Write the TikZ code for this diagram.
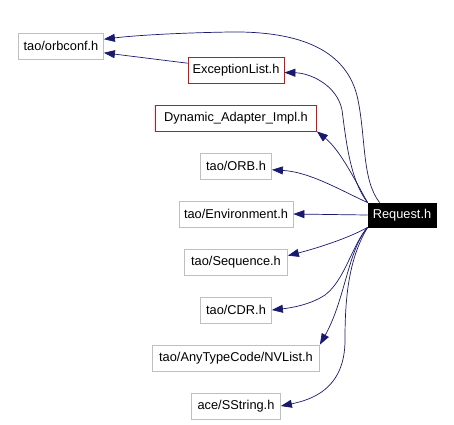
\documentclass[tikz,border=0pt]{standalone}
\usepackage{fontspec}
\setmainfont{Liberation Sans}
\usepackage{tikz}
\usetikzlibrary{arrows.meta}
\definecolor{edgeblue}{HTML}{191970}
\definecolor{boxgray}{HTML}{BFBFBF}

\begin{document}
\begin{tikzpicture}[x=1pt, y=-1pt,
		hdr/.style={draw=boxgray, line width=0.8pt, minimum height=26pt, inner sep=0pt, font=\fontsize{12.8}{14}\selectfont},
		hdrred/.style={hdr, draw=red},
		hdrmain/.style={hdr, draw=black, fill=black, text=white, minimum height=24pt},
		dep/.style={draw=edgeblue, line width=0.7pt, -{Triangle[length=11pt,width=8pt]}}]
		%%%%% START %%%%%
		
		\useasboundingbox (0, 0) rectangle (454, 424);
		
		\node[hdrmain, minimum width=68pt] (request) at (402, 215) {Request.h};
		
		\node[hdr, minimum width=85pt] (orbconf) at (61, 46) {tao/orbconf.h};
		\node[hdrred, minimum width=96pt] (exclist) at (236, 70) {ExceptionList.h};
		\node[hdrred, minimum width=161pt] (dynadapter) at (236, 118) {Dynamic\_Adapter\_Impl.h};
		\node[hdr, minimum width=71pt] (orb) at (236, 166) {tao/ORB.h};
		\node[hdr, minimum width=114pt] (environment) at (236, 214) {tao/Environment.h};
		\node[hdr, minimum width=103pt] (sequence) at (236, 262) {tao/Sequence.h};
		\node[hdr, minimum width=71pt] (cdr) at (236, 310) {tao/CDR.h};
		\node[hdr, minimum width=167pt] (nvlist) at (236, 358) {tao/AnyTypeCode/NVList.h};
		\node[hdr, minimum width=89pt] (sstring) at (236, 406) {ace/SString.h};
		
		% upper fan
		\draw[dep] (request.151) .. controls (362, 180) and (366, 140) .. (358, 100)
			.. controls (348, 50) and (300, 31) .. (230, 32)
			.. controls (170, 33) and (130, 36) .. (orbconf.9);
		\draw[dep] (exclist.172) -- (orbconf.351);
		\draw[dep] (request.north west) .. controls (350, 180) and (346, 140) .. (342, 110)
			.. controls (337, 85) and (310, 73) .. (exclist.357);
		\draw[dep] (request.north west) .. controls (355, 180) and (340, 150) .. (dynadapter.south east);
		\draw[dep] (request.north west) .. controls (340, 190) and (310, 172) .. (orb.354);
		
		\draw[dep] (request.west) -- (environment.east);
		
		% lower fan
		\draw[dep] (request.south west) .. controls (345, 240) and (310, 250) .. (sequence.7);
		\draw[dep] (request.south west) .. controls (352, 245) and (345, 280) .. (325, 295)
			.. controls (310, 305) and (290, 308) .. (cdr.east);
		\draw[dep] (request.south west) .. controls (348, 250) and (345, 300) .. (nvlist.north east);
		\draw[dep] (request.south west) .. controls (348, 260) and (345, 300) .. (345, 340)
			.. controls (345, 390) and (310, 400) .. (sstring.east);
		
		%%%%% END %%%%%
\end{tikzpicture}
\end{document}
